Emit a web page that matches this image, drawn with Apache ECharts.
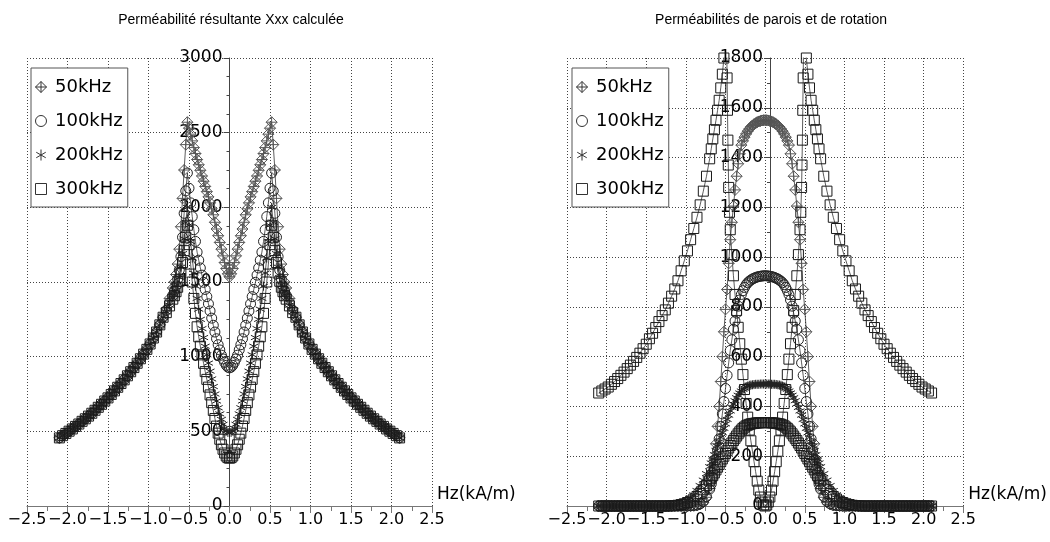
<!DOCTYPE html>
<html><head><meta charset="utf-8">
<script src="https://cdn.jsdelivr.net/npm/echarts@6/dist/echarts.min.js"></script>
<style>html,body{margin:0;padding:0;background:#fff}#c{width:1050px;height:542px}</style>
</head><body><div id="c"></div>
<script>
// ---------- DATA (curves are symmetric in Hz: values listed for Hz >= 0) ----------
const seriesNames = ['50kHz', '100kHz', '200kHz', '300kHz'];
const titles = ['Perméabilité résultante Xxx calculée', 'Perméabilités de parois et de rotation'];
const axisName = 'Hz(kA/m)';

// Hz grid (kA/m), positive half
const Hcore = [0,0.02,0.04,0.06,0.08,0.1,0.12,0.14,0.16,0.18,0.2,0.22,0.24,0.26,0.28,0.3,0.32,0.34,0.36,0.38,
  0.4,0.42,0.44,0.46,0.48,0.5,0.52,0.54,0.56,0.58,0.6,0.62,0.64,0.66,0.68,0.7,0.74,0.78];
const Htail = [0.82,0.86,0.9,0.94,0.98,1.02,1.06,1.1,1.14,1.18,1.22,1.26,1.3,1.34,1.38,1.42,1.46,1.5,1.54,1.58,
  1.62,1.66,1.7,1.74,1.78,1.82,1.86,1.9,1.94,1.98,2.02,2.06,2.1];

// Left panel: resulting permeability Xxx (core part per frequency, common tail)
const mu50core = [1535,1555,1590,1630,1675,1720,1765,1810,1855,1900,1950,1990,2030,2070,2105,2140,2175,2210,2248,2285,
  2320,2360,2400,2445,2490,2530,2570,2420,2250,2060,1870,1720,1620,1550,1500,1460,1390,1320];
const mu100core = [925,930,942,962,985,1010,1045,1080,1120,1165,1210,1258,1306,1354,1402,1450,1498,1546,1594,1646,
  1700,1772,1850,1938,2030,2128,2230,2110,1960,1800,1670,1580,1520,1475,1440,1410,1360,1310];
const mu200core = [490,493,502,520,547,580,617,658,703,750,800,851,903,957,1013,1070,1128,1188,1250,1318,
  1390,1472,1560,1660,1770,1880,2000,1900,1790,1690,1600,1530,1480,1445,1415,1392,1345,1300];
const mu300core = [320,324,335,355,380,410,447,488,535,586,640,692,744,796,848,900,955,1012,1070,1133,
  1200,1290,1390,1500,1620,1750,1880,1800,1710,1630,1560,1505,1465,1435,1408,1385,1340,1295];
const muTail = [1264,1213,1165,1125,1085,1049,1017,986,956,927,899,872,845,820,795,771,747,724,703,681,
  661,641,621,602,584,567,549,533,516,501,486,471,456];

// Right panel: wall permeability (on Hcore + Htail)
const wall50 = [1550,1550,1549,1547,1545,1542,1538,1534,1529,1523,1515,1506,1495,1482,1467,1450,1415,1375,1325,1270,
  1205,1140,1070,975,870,790,700,600,500,400,320,250,190,140,100,70,35,15,
  6,2,1,0,0,0,0,0,0,0,0,0,0,0,0,0,0,0,0,0,0,0,0,0,0,0,0,0,0,0,0,0,0];
const wall100 = [925,925,924,923,922,920,918,915,912,908,903,897,889,878,865,850,828,803,775,743,
  710,668,625,575,525,472,420,370,320,270,225,185,148,115,88,68,38,18,
  9,4,2,1,0,0,0,0,0,0,0,0,0,0,0,0,0,0,0,0,0,0,0,0,0,0,0,0,0,0,0,0,0];
const wall200 = [490,490,490,490,489,489,489,488,487,486,485,482,479,474,469,462,454,445,435,423,
  410,396,382,365,348,330,312,294,276,258,240,223,206,189,173,158,130,104,
  82,62,45,32,22,15,9,5,3,1,0,0,0,0,0,0,0,0,0,0,0,0,0,0,0,0,0,0,0,0,0,0,0];
const wall300 = [335,335,335,335,334,334,333,332,331,330,328,325,322,317,312,305,298,290,281,272,
  263,253,243,233,222,211,200,189,178,167,156,145,133,122,111,101,82,65,
  50,38,28,20,14,9,6,3,2,1,0,0,0,0,0,0,0,0,0,0,0,0,0,0,0,0,0,0,0,0,0,0,0];

// Right panel: rotation permeability, inner branch (|Hz| < Hk) and outer branch (|Hz| > Hk)
const rotInnerH = [0,0.02,0.04,0.06,0.08,0.1,0.12,0.14,0.16,0.18,0.2,0.22,0.24,0.26,0.28,0.3,0.32,0.34,0.36,0.38,
  0.4,0.42,0.44,0.45,0.46,0.465,0.47,0.475,0.48,0.485];
const rotInner = [0,4,16,36,64,100,138,178,220,262,305,357,412,468,528,590,652,718,785,850,
  925,1010,1110,1180,1280,1370,1470,1590,1720,1870];
const rotOuterH = [0.5,0.52,0.54,0.56,0.58,0.6,0.62,0.64,0.66,0.68,0.7,
  0.74,0.78,0.82,0.86,0.9,0.94,0.98,1.02,1.06,1.1,1.14,1.18,1.22,1.26,1.3,1.34,1.38,1.42,1.46,1.5,
  1.54,1.58,1.62,1.66,1.7,1.74,1.78,1.82,1.86,1.9,1.94,1.98,2.02,2.06,2.1];
const rotOuter = [1950,1800,1735,1680,1630,1590,1550,1512,1475,1435,1395,
  1325,1265,1210,1160,1115,1070,1025,985,945,905,872,843,815,788,765,741,717,694,672,650,
  632,614,597,581,566,552,538,525,512,500,489,478,470,462,454];

const xTicks = {min: -2.5, max: 2.5, interval: 0.5};
const yLeft = {min: 0, max: 3000, interval: 500};
const yRight = {min: 0, max: 1800, interval: 200};

// ---------- CHART ----------
const FONT = 'DejaVu Sans';
const SQUARE = 'path://M0,0L10,0L10,10L0,10Z';
const SYM = {
  '50kHz': 'path://M5,0L10,5L5,10L0,5ZM5,0L5,10M0,5L10,5',
  '100kHz': 'circle',
  '200kHz': 'path://M5,0L5,10M0.67,2.5L9.33,7.5M0.67,7.5L9.33,2.5',
  '300kHz': SQUARE
};
const SIZE = {'50kHz': 11, '100kHz': 10, '200kHz': 9, '300kHz': 10};
const STROKE = {'50kHz': '#555', '100kHz': '#222', '200kHz': '#222', '300kHz': '#1a1a1a'};

// symmetric table (Hz -> -Hz) built from the positive half
function sym(xs, ys) {
  const pts = xs.map((x, i) => [x, ys[i]]);
  const neg = pts.filter(p => p[0] > 0).map(p => [-p[0], p[1]]).reverse();
  return neg.concat(pts);
}
function negBranch(xs, ys) { return xs.map((x, i) => [-x, ys[i]]).reverse(); }
function posBranch(xs, ys) { return xs.map((x, i) => [x, ys[i]]); }

function ser(name, gi, data) {
  return {
    type: 'line', name: name, xAxisIndex: gi, yAxisIndex: gi,
    data: data, symbol: SYM[name], symbolSize: SIZE[name],
    showSymbol: true, clip: true, animation: false, silent: true,
    lineStyle: {color: '#333', width: 0.8},
    itemStyle: {color: 'rgba(255,255,255,0)', borderColor: STROKE[name], borderWidth: 1}
  };
}
function xAxis(gi) {
  return {
    type: 'value', gridIndex: gi, min: xTicks.min, max: xTicks.max, interval: xTicks.interval,
    name: axisName, nameLocation: 'end', nameGap: 5,
    nameTextStyle: {fontFamily: FONT, fontSize: 17, color: '#000', align: 'left', verticalAlign: 'bottom', padding: [0, 0, 3, 0]},
    axisLine: {show: true, onZero: false, lineStyle: {color: '#777', width: 1}},
    axisTick: {show: true, length: 7, lineStyle: {color: '#777'}},
    minorTick: {show: true, splitNumber: 2, length: 5, lineStyle: {color: '#777'}},
    axisLabel: {fontFamily: FONT, fontSize: 16, color: '#000', margin: 6,
      showMinLabel: true, showMaxLabel: true, hideOverlap: false,
      formatter: v => (v < 0 ? '\u2212' : '') + Math.abs(v).toFixed(1)},
    splitLine: {show: true, lineStyle: {color: '#444', type: [1, 2], width: 1}}
  };
}
function yAxis(gi, t, minorSplit, offset) {
  return {
    type: 'value', gridIndex: gi, min: t.min, max: t.max, interval: t.interval,
    position: 'left', offset: offset,
    axisLine: {show: true, onZero: false, lineStyle: {color: '#444', width: 1}},
    axisTick: {show: true, length: 6, lineStyle: {color: '#444'}},
    minorTick: {show: true, splitNumber: minorSplit, length: 3, lineStyle: {color: '#444'}},
    axisLabel: {fontFamily: FONT, fontSize: 17, color: '#000', margin: 7,
      showMinLabel: true, showMaxLabel: true, hideOverlap: false, formatter: v => String(v)},
    splitLine: {show: true, lineStyle: {color: '#444', type: [1, 2], width: 1}}
  };
}
function legend(left) {
  return {
    left: left, top: 68, orient: 'vertical',
    data: seriesNames.map(n => ({name: n, icon: SYM[n]})),
    itemWidth: 18, itemHeight: 11, itemGap: 14,
    padding: [9, 5, 8, 4],
    backgroundColor: '#fff', borderColor: '#555', borderWidth: 1, borderRadius: 0,
    selectedMode: false,
    itemStyle: {color: 'rgba(255,255,255,0)', borderColor: '#333', borderWidth: 1},
    textStyle: {fontFamily: FONT, fontSize: 18, color: '#000', lineHeight: 20}
  };
}
const leftCores = [mu50core, mu100core, mu200core, mu300core];
const walls = [wall50, wall100, wall200, wall300];
const Hall = Hcore.concat(Htail);
const series = [];
seriesNames.forEach((n, i) => series.push(ser(n, 0, sym(Hall, leftCores[i].concat(muTail)))));
seriesNames.forEach((n, i) => series.push(ser(n, 1, sym(Hall, walls[i]))));
series.push(ser('300kHz', 1, negBranch(rotOuterH, rotOuter)));
series.push(ser('300kHz', 1, sym(rotInnerH, rotInner)));
series.push(ser('300kHz', 1, posBranch(rotOuterH, rotOuter)));

const option = {
  animation: false,
  backgroundColor: '#fff',
  title: [
    {text: titles[0], left: 231, top: 13, textAlign: 'center', padding: 0,
     textStyle: {fontFamily: 'Liberation Sans', fontSize: 14, fontWeight: 'normal', color: '#000'}},
    {text: titles[1], left: 771, top: 13, textAlign: 'center', padding: 0,
     textStyle: {fontFamily: 'Liberation Sans', fontSize: 14, fontWeight: 'normal', color: '#000'}}
  ],
  legend: [legend(31), legend(572)],
  grid: [
    {left: 27, top: 58, width: 405, height: 448},
    {left: 567, top: 58, width: 406, height: 448}
  ],
  xAxis: [xAxis(0), xAxis(1)],
  yAxis: [yAxis(0, yLeft, 4, -202.5), yAxis(1, yRight, 2, -203)],
  series: series
};
const chart = echarts.init(document.getElementById('c'), null, {renderer: 'canvas'});
chart.setOption(option);
</script>
</body></html>
